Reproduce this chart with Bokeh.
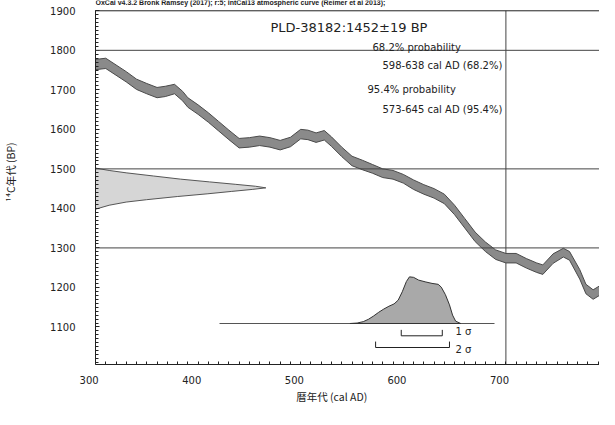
from bokeh.plotting import figure
from bokeh.models import Range1d, Span, Label, SingleIntervalTicker
from bokeh.embed import file_html
from bokeh.resources import INLINE

# ---------------- data ----------------
curve_year = [300, 310, 320, 330, 340, 350, 360, 368, 377, 385,
              390, 400, 410, 420, 430, 440, 450, 460, 470, 480,
              490, 500, 507, 515, 523, 530, 540, 550, 560, 570,
              580, 590, 600, 610, 620, 630, 640, 650, 660, 670,
              680, 690, 700, 710, 720, 730, 736, 746, 756, 762,
              772, 778, 785, 792, 800]
curve_bp = [1764, 1767, 1750, 1733, 1714, 1703, 1693, 1696, 1702, 1684,
            1668, 1650, 1630, 1608, 1586, 1565, 1567, 1571, 1567, 1560,
            1568, 1588, 1586, 1579, 1585, 1569, 1543, 1520, 1510, 1500,
            1489, 1485, 1475, 1460, 1448, 1438, 1424, 1396, 1362, 1328,
            1303, 1283, 1274, 1274, 1261, 1250, 1245, 1273, 1288, 1280,
            1233, 1196, 1182, 1193, 1206]
curve_sigma = [13, 13, 13, 13, 13, 13, 13, 13, 12, 12,
               12, 12, 12, 12, 12, 12, 12, 12, 12, 12,
               12, 12, 12, 12, 12, 12, 12, 12, 12, 11,
               11, 11, 11, 12, 12, 12, 12, 12, 12, 12,
               12, 12, 12, 12, 12, 12, 12, 12, 11, 11,
               12, 12, 12, 12, 12]

# radiocarbon date 1452 +/- 19 BP (relative density)
date_bp = [1502, 1496, 1490, 1482, 1474, 1467, 1461, 1456, 1452, 1448,
           1443, 1437, 1430, 1422, 1416, 1408, 1398]
date_p = [0.0, 0.08, 0.18, 0.34, 0.50, 0.67, 0.82, 0.94, 1.0, 0.92,
          0.80, 0.66, 0.48, 0.30, 0.18, 0.08, 0.0]

# calibrated distribution (relative probability)
cal_year = [548, 555, 561, 566, 571, 576, 581, 586, 591, 595,
            599, 603, 606, 610, 615, 622, 628, 634, 637, 641,
            645, 648, 651, 656]
cal_p = [0.0, 0.01, 0.04, 0.09, 0.16, 0.24, 0.31, 0.37, 0.42, 0.50,
         0.68, 0.90, 1.0, 0.99, 0.93, 0.89, 0.86, 0.84, 0.78, 0.62,
         0.40, 0.18, 0.05, 0.0]

range_1s = [598, 638]
range_2s = [573, 645]

x_start, x_end = 300, 800
y_start, y_end = 1005, 1900
tick_interval = 100
x_tick_values = [300, 400, 500, 600, 700, 800]
x_tick_labels = ["300", "400", "500", "600", "700", "800"]
grid_bp = [1800, 1500, 1300]
grid_year = [700]

header = "OxCal v4.3.2 Bronk Ramsey (2017); r:5; IntCal13 atmospheric curve (Reimer et al 2013);"
title = "PLD-38182:1452\u00b119 BP"
summary = ["68.2% probability", "598-638 cal AD (68.2%)",
           "95.4% probability", "573-645 cal AD (95.4%)"]
x_title = "暦年代 (cal AD)"
y_title = "¹⁴C年代 (BP)"

# ---------------- layout ----------------
W, H = 599, 409
BL, BT, BB = 95, 0, 45
XS = 1.026                      # px per year
YS = 0.3952                     # px per 14C year
FW = W - BL
FH = H - BT - BB
X0 = x_start
X1 = X0 + FW / XS
Y0 = y_start
Y1 = Y0 + FH / YS               # frame reaches the top of the canvas


def sx(ix):  # reference-image x pixel -> data x
    return X0 + (ix - 8 - BL) / XS


def sy(iy):  # reference-image y pixel -> data y
    return Y1 - (iy - 8 - BT) / YS


DATE_SCALE = 166.0
CAL_BASE = sy(331)
CAL_SCALE = 118.0
CAL_AXIS = [sx(227), sx(502)]
LVL_1S = sy(343.3)
LVL_2S = sy(355)
TICK_H = 15.0
RIGHT_PAD = "\u2007\u2007"      # OxCal puts the year labels left of their ticks
X_TITLE_PAD = "\u3000\u3000\u3000"
Y_TITLE_PAD = "\u3000\u3000"

p = figure(width=W, height=H, x_range=Range1d(X0, X1), y_range=Range1d(Y0, Y1),
           output_backend="svg", toolbar_location=None,
           min_border_left=BL, min_border_right=0, min_border_top=BT,
           min_border_bottom=BB)
p.outline_line_color = None
p.grid.visible = False

AX = "#222222"
xa = p.xaxis[0]
ya = p.yaxis[0]
for ax in (xa, ya):
    ax.ticker = SingleIntervalTicker(interval=tick_interval, num_minor_ticks=10)
    ax.axis_line_color = AX
    ax.major_tick_line_color = AX
    ax.minor_tick_line_color = AX
    ax.major_tick_out = 0
    ax.minor_tick_out = 0
    ax.minor_tick_in = 3
    ax.major_label_text_font = "DejaVu Sans"
    ax.major_label_text_font_size = "10px"
    ax.major_label_text_color = AX
    ax.axis_label_text_font = "Noto Sans CJK JP"
    ax.axis_label_text_font_size = "10.5px"
    ax.axis_label_text_font_style = "normal"
    ax.axis_label_text_color = AX

ya.bounds = (y_start, y_end)
ya.major_tick_in = 4
ya.major_label_standoff = 20
ya.axis_label = Y_TITLE_PAD + y_title
ya.axis_label_standoff = 29

xa.major_tick_in = 0
xa.major_label_standoff = 10
xa.major_label_overrides = {v: t + RIGHT_PAD for v, t in zip(x_tick_values, x_tick_labels)}
xa.axis_label = x_title + X_TITLE_PAD
xa.axis_label_standoff = 0

# reference lines
GC = "#444444"
for b in grid_bp:
    p.add_layout(Span(location=b, dimension="width", line_color=GC, line_width=1))
p.add_layout(Span(location=y_end, dimension="width", line_color=AX, line_width=1))
p.segment(x0=grid_year, y0=[y_start] * len(grid_year), x1=grid_year,
          y1=[y_end] * len(grid_year), line_color=GC, line_width=1)

# calibration curve band
upper = [b + s for b, s in zip(curve_bp, curve_sigma)]
lower = [b - s for b, s in zip(curve_bp, curve_sigma)]
p.patch(curve_year + curve_year[::-1], upper + lower[::-1],
        fill_color="#8a8a8a", line_color="#4a4a4a", line_width=1)

# radiocarbon date distribution on the y axis
dx = [x_start + v * DATE_SCALE for v in date_p]
p.patch([x_start] + dx + [x_start], [date_bp[0]] + date_bp + [date_bp[-1]],
        fill_color="#d6d6d6", line_color="#555555", line_width=1)

# calibrated distribution
p.segment(x0=[CAL_AXIS[0]], y0=[CAL_BASE], x1=[CAL_AXIS[1]], y1=[CAL_BASE],
          line_color="#555555", line_width=1)
cy = [CAL_BASE + v * CAL_SCALE for v in cal_p]
p.patch(cal_year, cy, fill_color="#a9a9a9", line_color="#333333", line_width=1)

# sigma brackets
for rng, lvl in ((range_1s, LVL_1S), (range_2s, LVL_2S)):
    p.segment(x0=[rng[0], rng[0], rng[1]], y0=[lvl, lvl, lvl],
              x1=[rng[1], rng[0], rng[1]], y1=[lvl, lvl + TICK_H, lvl + TICK_H],
              line_color=AX, line_width=1)


def lab(text, ix, iy, size, font="DejaVu Sans", style="normal"):
    p.add_layout(Label(x=sx(ix), y=sy(iy), text=text, text_font=font,
                       text_font_size=size, text_align="left", text_baseline="middle",
                       text_color=AX, text_font_style=style))


lab(header, 103, 10, "7px", font="Liberation Sans", style="bold")
lab(title, 278, 35, "13px")
lab(summary[0], 380, 55, "10px")
lab(summary[1], 390, 72.7, "10px")
lab(summary[2], 375, 96.7, "10px")
lab(summary[3], 390, 117.3, "10px")
lab("1 \u03c3", 463, 339.3, "10px")
lab("2 \u03c3", 463, 356.7, "10px")

open("out.html", "w").write(file_html(p, INLINE))
